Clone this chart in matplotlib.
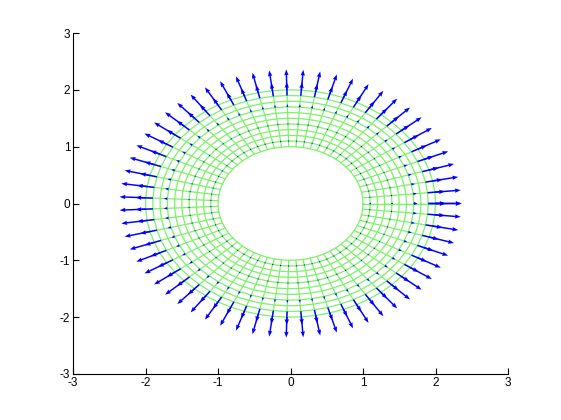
import numpy as np
import matplotlib
matplotlib.use("Agg")
import matplotlib.pyplot as plt

# mesh grid (annulus)
theta_count = 64
r_mesh = np.linspace(1.0, 2.0, 11)
theta_mesh = np.linspace(0, 2 * np.pi, theta_count)

r_quiver = [1.1, 1.4, 1.7, 1.9, 2.0]
len_quiver = [0.003, 0.012, 0.05, 0.24, 0.36]

x_ticks = [-3, -2, -1, 0, 1, 2, 3]
y_ticks = [-3, -2, -1, 0, 1, 2, 3]

fig = plt.figure(figsize=(5.61, 4.20), dpi=100)
ax = fig.add_axes([73 / 561, 46 / 420, 435 / 561, 341 / 420])

T, R = np.meshgrid(theta_mesh, r_mesh)
X = R * np.cos(T)
Y = R * np.sin(T)
green = '#7ef06c'
ax.plot(X.T, Y.T, color=green, lw=0.9)   # rings
ax.plot(X, Y, color=green, lw=0.9)       # spokes

Tq, Rq = np.meshgrid(theta_mesh, np.array(r_quiver))
_, Lq = np.meshgrid(theta_mesh, np.array(len_quiver))
Xq = Rq * np.cos(Tq)
Yq = Rq * np.sin(Tq)
U = Lq * np.cos(Tq)
V = Lq * np.sin(Tq)
ax.quiver(Xq, Yq, U, V, color='#0000ff', angles='xy', scale_units='xy', scale=1,
          width=0.0034, headwidth=3.0, headlength=4.0, headaxislength=3.6,
          minlength=0.9, zorder=3)

ax.set_xlim(-3, 3)
ax.set_ylim(-3, 3)
ax.set_xticks(x_ticks)
ax.set_yticks(y_ticks)
ax.set_xticklabels([str(t) for t in x_ticks])
ax.set_yticklabels([str(t) for t in y_ticks])
for s in ['top', 'right']:
    ax.spines[s].set_visible(False)
for s in ['left', 'bottom']:
    ax.spines[s].set_linewidth(0.8)
ax.tick_params(direction='in', length=4, width=0.8, labelsize=8.5, pad=2)
for lab in ax.get_xticklabels() + ax.get_yticklabels():
    lab.set_family('Liberation Sans')

fig.savefig('out.png', dpi=100)
